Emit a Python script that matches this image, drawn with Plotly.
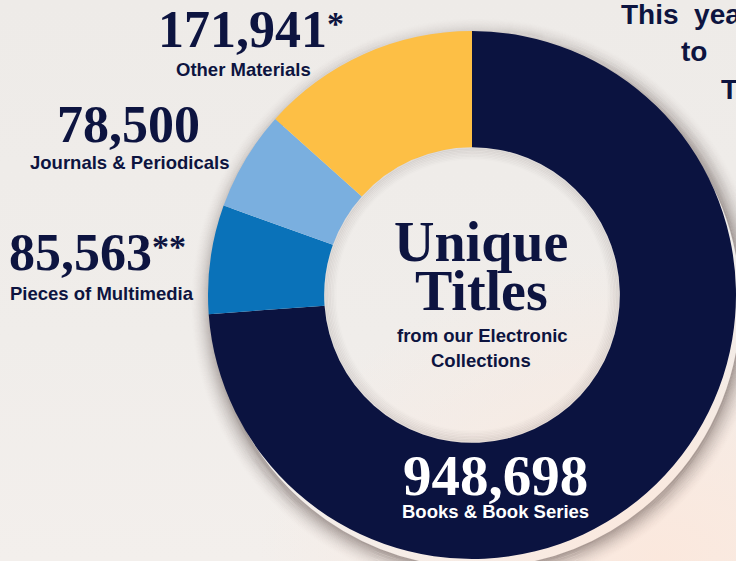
import base64
import plotly.graph_objects as go

# ---- data ----
categories = ["Books & Book Series", "Pieces of Multimedia", "Journals & Periodicals", "Other Materials"]
values = [948698, 85563, 78500, 171941]
value_labels = ["948,698", "85,563", "78,500", "171,941"]
value_marks = ["", "**", "", "*"]
colors = ["#0b1340", "#0a72b9", "#7aafdf", "#fdbf45"]

W, H = 736, 561
NAVY = "#0d1440"

# donut geometry (pixels)
CX, CY, R = 472, 295, 264
HOLE = 0.56


def px(x, y):
    return x / W, 1 - y / H


fig = go.Figure()
fig.add_trace(go.Pie(
    labels=categories, values=values, sort=False, direction="clockwise", rotation=0,
    hole=HOLE, marker=dict(colors=colors, line=dict(width=0)),
    textinfo="none", hoverinfo="label+value", showlegend=False,
    domain=dict(x=[(CX - R) / W, (CX + R) / W], y=[1 - (CY + R) / H, 1 - (CY - R) / H]),
))

shapes = []
# soft drop shadow outside the ring (rings only, so the hole stays clear)
for k in range(0, 24):
    rr = R + k
    ox, oy = CX + 5, CY + 9
    a = 0.42 * (1 - k / 24) ** 2
    shapes.append(dict(type="circle", xref="paper", yref="paper", layer="below",
                       x0=(ox - rr) / W, x1=(ox + rr) / W, y0=1 - (oy + rr) / H, y1=1 - (oy - rr) / H,
                       fillcolor="rgba(0,0,0,0)", line=dict(width=1.2, color=f"rgba(80,65,62,{a:.3f})")))
# inner shadow inside the hole
RH = R * HOLE
for k in range(1, 9):
    rr = RH - 1.5 * k + 0.5
    shapes.append(dict(type="circle", xref="paper", yref="paper", layer="above",
                       x0=(CX - rr) / W, x1=(CX + rr) / W, y0=1 - (CY + rr) / H, y1=1 - (CY - rr) / H,
                       fillcolor="rgba(0,0,0,0)", line=dict(width=2, color=f"rgba(60,45,45,{0.10 - 0.011 * k:.3f})")))

SERIF = "Liberation Serif, Times New Roman, serif"
SANS = "Liberation Sans, Arial, sans-serif"
ann = []


def num(text, x, y, size, xanchor="center", color=NAVY):
    xx, yy = px(x, y)
    ann.append(dict(text=text, x=xx, y=yy, xref="paper", yref="paper", xanchor=xanchor, yanchor="middle",
                    showarrow=False, font=dict(family=SERIF, size=size, color=color, weight="bold")))


def lab(text, x, y, size=18.5, xanchor="center", color=NAVY):
    xx, yy = px(x, y)
    ann.append(dict(text=text, x=xx, y=yy, xref="paper", yref="paper", xanchor=xanchor, yanchor="middle",
                    showarrow=False, font=dict(family=SANS, size=size, color=color, weight="bold")))


def mark(m):
    return f"<span style='font-size:34px;baseline-shift:12px'>{m}</span>" if m else ""


# Other Materials
num(value_labels[3] + mark(value_marks[3]), 251, 29, 52)
lab(categories[3], 244, 69)
# Journals
num(value_labels[2], 128, 125, 52)
lab(categories[2], 129, 162)
# Multimedia
num(value_labels[1] + mark(value_marks[1]), 7, 252, 52, xanchor="left")
lab(categories[1], 8, 293, xanchor="left")
# Books
num(value_labels[0], 495, 475, 57, color="#ffffff")
lab(categories[0], 495, 512, color="#ffffff")
# centre title
num("Unique", 481, 242, 56)
num("Titles", 481, 291, 56)
lab("from our Electronic", 482, 335)
lab("Collections", 481, 360)
# cropped text at top right
lab("This  year", 619, 15, size=28, xanchor="left")
lab("to", 679, 52, size=28, xanchor="left")
lab("T", 719, 90, size=28, xanchor="left")

svg = (
    f'<svg xmlns="http://www.w3.org/2000/svg" width="{W}" height="{H}">'
    '<defs>'
    '<linearGradient id="g" x1="0" y1="0" x2="0" y2="1">'
    '<stop offset="0" stop-color="#eeebe8"/><stop offset="0.6" stop-color="#f0edea"/>'
    '<stop offset="1" stop-color="#f3efec"/></linearGradient>'
    '<radialGradient id="r" cx="0.9" cy="1.0" r="0.55">'
    '<stop offset="0" stop-color="#fbe8dd" stop-opacity="1"/>'
    '<stop offset="1" stop-color="#fbe8dd" stop-opacity="0"/></radialGradient>'
    '</defs>'
    f'<rect width="{W}" height="{H}" fill="url(#g)"/>'
    f'<rect width="{W}" height="{H}" fill="url(#r)"/>'
    '</svg>'
)
src = "data:image/svg+xml;base64," + base64.b64encode(svg.encode()).decode()

fig.update_layout(
    width=W, height=H, margin=dict(l=0, r=0, t=0, b=0),
    paper_bgcolor="#efece9", plot_bgcolor="#efece9",
    shapes=shapes, annotations=ann,
    images=[dict(source=src, xref="paper", yref="paper", x=0, y=1, sizex=1, sizey=1,
                 sizing="stretch", xanchor="left", yanchor="top", layer="below")],
)
fig.write_html("out.html", config={"displayModeBar": False},
               post_script="document.body.style.margin='0';document.body.style.overflow='hidden';")
